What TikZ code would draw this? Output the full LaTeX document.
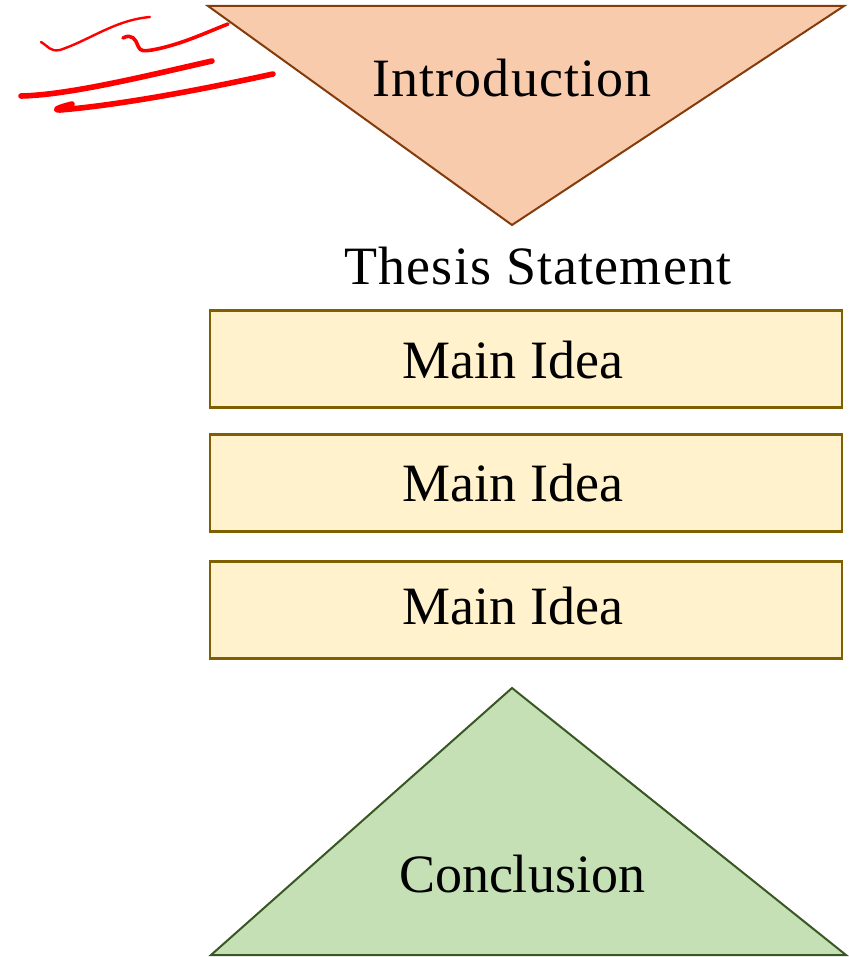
\documentclass[tikz,border=0pt]{standalone}
\usepackage{fontspec}
\setmainfont{Liberation Serif}
\definecolor{introfill}{HTML}{F8CBAD}
\definecolor{introline}{HTML}{843C0C}
\definecolor{mainfill}{HTML}{FFF2CC}
\definecolor{mainline}{HTML}{7F6000}
\definecolor{concfill}{HTML}{C5E0B4}
\definecolor{concline}{HTML}{385723}
\definecolor{inkred}{HTML}{FF0000}
\begin{document}
\begin{tikzpicture}[x=1pt,y=-1pt,
  lbl/.style={font=\fontsize{54}{60}\selectfont, inner sep=0pt},
  widelbl/.style={font=\fontsize{54}{60}\selectfont\addfontfeature{LetterSpace=2.2}, inner sep=0pt},
  ideabox/.style={draw=mainline, fill=mainfill, line width=2.2pt, minimum width=632pt, minimum height=97pt, inner sep=0pt},
  ink/.style={draw=inkred, line cap=round, line join=round}]
\useasboundingbox (0,0) rectangle (848,957);
% Introduction triangle
\filldraw[fill=introfill, draw=introline, line width=2pt, line join=miter] (208,6) -- (844,6) -- (512,225) -- cycle;
\node[widelbl] (intro) at (512,78) {Introduction};
% Thesis
\node[widelbl] (thesis) at (538,266) {Thesis Statement};
% Main ideas
\node[ideabox] (m1) at (526,359) {};
\node[ideabox] (m2) at (526,483) {};
\node[ideabox] (m3) at (526,610) {};
\node[lbl] (t1) at (513,360) {Main Idea};
\node[lbl] (t2) at (513,483) {Main Idea};
\node[lbl] (t3) at (513,606) {Main Idea};
% Conclusion triangle
\filldraw[fill=concfill, draw=concline, line width=2pt] (211,955) -- (512,688) -- (846,955) -- cycle;
\node[lbl] (conc) at (522,874) {Conclusion};
% red scribbles
\draw[ink, line width=2.4pt] (41,42) .. controls (48,46) and (50,52) .. (60,50) .. controls (90,40) and (115,20) .. (150,17);
\draw[ink, line width=3.6pt] (123,38) .. controls (132,33) and (136,40) .. (138,46) .. controls (140,52) and (145,51) .. (152,50) .. controls (180,45) and (205,33) .. (228,24);
\draw[ink, line width=5.6pt] (21,96) .. controls (70,95) and (150,75) .. (212,61);
\draw[ink, line width=5.6pt] (72,104) .. controls (60,107) and (52,110) .. (60,110) .. controls (120,105) and (200,90) .. (273,74);
\end{tikzpicture}
\end{document}
